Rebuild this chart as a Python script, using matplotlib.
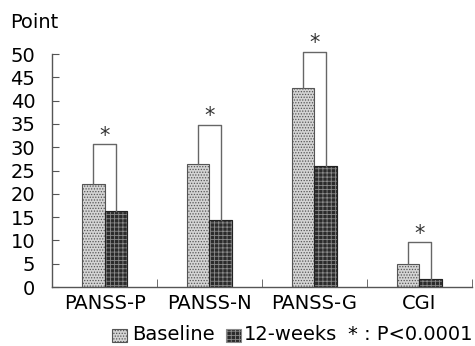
import numpy as np
import matplotlib
matplotlib.use("Agg")
import matplotlib.pyplot as plt
from matplotlib.patches import Rectangle

plt.rcParams['font.family'] = ['DejaVu Sans']
plt.rcParams['hatch.linewidth'] = 0.6

categories = ["PANSS-P", "PANSS-N", "PANSS-G", "CGI"]
baseline = [22.2, 26.5, 42.8, 4.9]
weeks12 = [16.4, 14.3, 25.9, 1.8]
bracket_top = [30.6, 34.8, 50.5, 9.6]
y_ticks = [0, 5, 10, 15, 20, 25, 30, 35, 40, 45, 50]

fs = 14

fig = plt.figure(figsize=(4.75, 3.46), dpi=100)
ax = fig.add_axes([0.1095, 0.1705, 0.884, 0.6734])

x = np.arange(len(categories))
w = 0.215
ax.bar(x - w / 2, baseline, w, facecolor="#d4d4d4", edgecolor="#555555",
       hatch="......", linewidth=0.8)
ax.bar(x + w / 2, weeks12, w, facecolor="#2b2b2b", edgecolor="#8a8a8a",
       hatch="++++", linewidth=0.8)
# redraw dark bar outlines
ax.bar(x + w / 2, weeks12, w, facecolor="none", edgecolor="#222222", linewidth=0.8)

for i in range(len(categories)):
    xl, xr = x[i] - w / 2, x[i] + w / 2
    ax.plot([xl, xl, xr, xr], [baseline[i], bracket_top[i], bracket_top[i], weeks12[i]],
            color="#666666", lw=1.0, clip_on=False)
    ax.text(x[i], bracket_top[i] - 0.3, "*", ha="center", va="bottom",
            fontsize=15, color="#333333", clip_on=False)

ax.set_xlim(-0.5, len(categories) - 0.5)
ax.set_ylim(0, 50)
ax.set_yticks(y_ticks)
ax.set_yticklabels([str(v) for v in y_ticks], fontsize=fs)
ax.set_xticks(x)
ax.set_xticklabels(categories, fontsize=fs)
ax.tick_params(axis="x", length=0, pad=5)
ax.tick_params(axis="y", direction="in", length=5, pad=12, color="#555555")
ax.set_xticks(np.arange(len(categories)) + 0.5, minor=True)
ax.tick_params(axis="x", which="minor", direction="in", length=6, color="#555555")

for s in ["top", "right"]:
    ax.spines[s].set_visible(False)
for s in ["left", "bottom"]:
    ax.spines[s].set_color("#555555")
    ax.spines[s].set_linewidth(1.0)

fig.text(10 / 475, 1 - 22 / 346, "Point", fontsize=fs, va="center", ha="left")

# legend row
ly = 1 - 335 / 346
fig.patches.append(Rectangle((112 / 475, ly - 6.5 / 346), 15 / 475, 13 / 346,
                             transform=fig.transFigure, facecolor="#d4d4d4",
                             edgecolor="#555555", hatch="......", lw=0.8))
fig.text(132 / 475, ly, "Baseline", fontsize=fs, va="center", ha="left")
fig.patches.append(Rectangle((226 / 475, ly - 6.5 / 346), 15 / 475, 13 / 346,
                             transform=fig.transFigure, facecolor="#2b2b2b",
                             edgecolor="#8a8a8a", hatch="++++", lw=0.8))
fig.text(244 / 475, ly, "12-weeks", fontsize=fs, va="center", ha="left")
fig.text(472 / 475, ly, "* : P<0.0001", fontsize=fs, va="center", ha="right")

fig.savefig("out.png", dpi=100)
